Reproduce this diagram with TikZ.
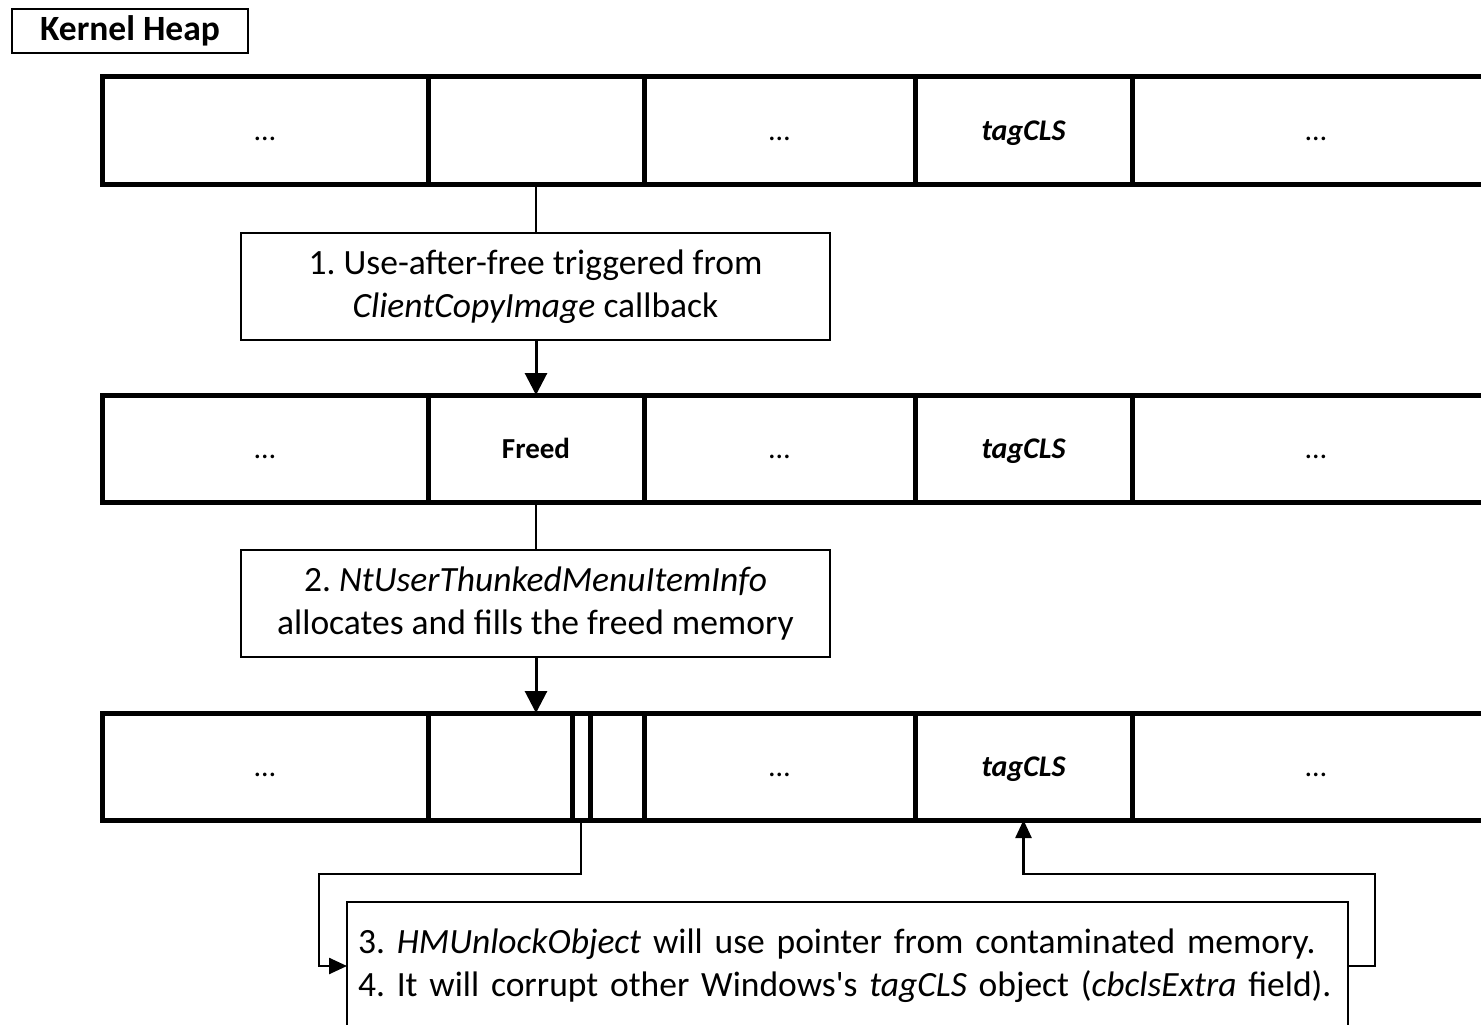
\documentclass[tikz,border=0pt]{standalone}
\usepackage{fontspec}
\setmainfont{Carlito}
\usetikzlibrary{arrows.meta}

\begin{document}
\frenchspacing
\begin{tikzpicture}[x=1pt, y=-1pt,
  cell/.style={draw, line width=5pt, inner sep=0pt, outer sep=0pt, minimum height=107pt, text height=19pt, text depth=0pt, anchor=north west, font=\fontsize{30}{36}\selectfont},
  stepbox/.style={draw, line width=2pt, inner sep=0pt, outer sep=0pt, minimum width=589pt, minimum height=107pt, align=center, anchor=north west},
  link/.style={line width=2.5pt},
  tips/.style={line width=3pt, -{Triangle[length=22pt,width=22pt]}},
  sidetips/.style={link, -{Triangle[length=18pt,width=16pt]}}]

\fontsize{35.5}{43}\selectfont
\useasboundingbox (0,0) rectangle (1481,1025);
\clip (0,0) rectangle (1481,1025);

% LABEL
\node [draw, line width=2pt, minimum width=236pt, minimum height=44pt, inner sep=0pt, outer sep=0pt, anchor=north west, font=\bfseries] (heap) at (12,9) {Kernel Heap};

% HEAP ROWS
\foreach \r/\y/\t in {1/77/{}, 2/395/Freed, 3/713/{}} {
  \node [cell, minimum width=326pt] (row\r-a) at (102,\y) {\dots};
  \node [cell, minimum width=216pt, font=\fontsize{29}{36}\selectfont\bfseries] (row\r-b) at (428,\y) {\t};
  \node [cell, minimum width=271pt] (row\r-c) at (644,\y) {\dots};
  \node [cell, minimum width=217pt, font=\fontsize{30}{36}\selectfont\bfseries\itshape] (row\r-d) at (915,\y) {tagCLS};
  \node [cell, minimum width=368pt] (row\r-e) at (1132,\y) {\dots};
}
\node [cell, minimum width=18pt] (slot) at (572,713) {};

% STEPS
\node [stepbox] (step1) at (241,233) {1. Use-after-free triggered from\\\textit{ClientCopyImage} callback};
\node [stepbox] (step2) at (241,550) {2. \textit{NtUserThunkedMenuItemInfo}\\allocates and fills the freed memory};
\node [stepbox, minimum width=1001pt, minimum height=128pt, inner xsep=11pt, text width=979pt, align=left] (step3) at (347,902)
  {3. \textit{HMUnlockObject} will use pointer from contaminated memory.\\4. It will corrupt other Windows\textquotesingle s \textit{tagCLS} object (\textit{cbclsExtra} field).};

% LINKS
\draw [link] (row1-b.south) -- (row1-b.south |- step1.north);
\draw [tips] (row2-b.north |- step1.south) -- (row2-b.north);
\draw [link] (row2-b.south) -- (row2-b.south |- step2.north);
\draw [tips] (row3-b.north |- step2.south) -- (row3-b.north);
\draw [sidetips] (slot.south) -- ++(0,54) -| ([xshift=-28pt]step3.west) -- (step3.west);
\draw [sidetips] (step3.east) -- ++(27,0) |- ([yshift=-54pt]row3-d.south) -- (row3-d.south);

\end{tikzpicture}
\end{document}
